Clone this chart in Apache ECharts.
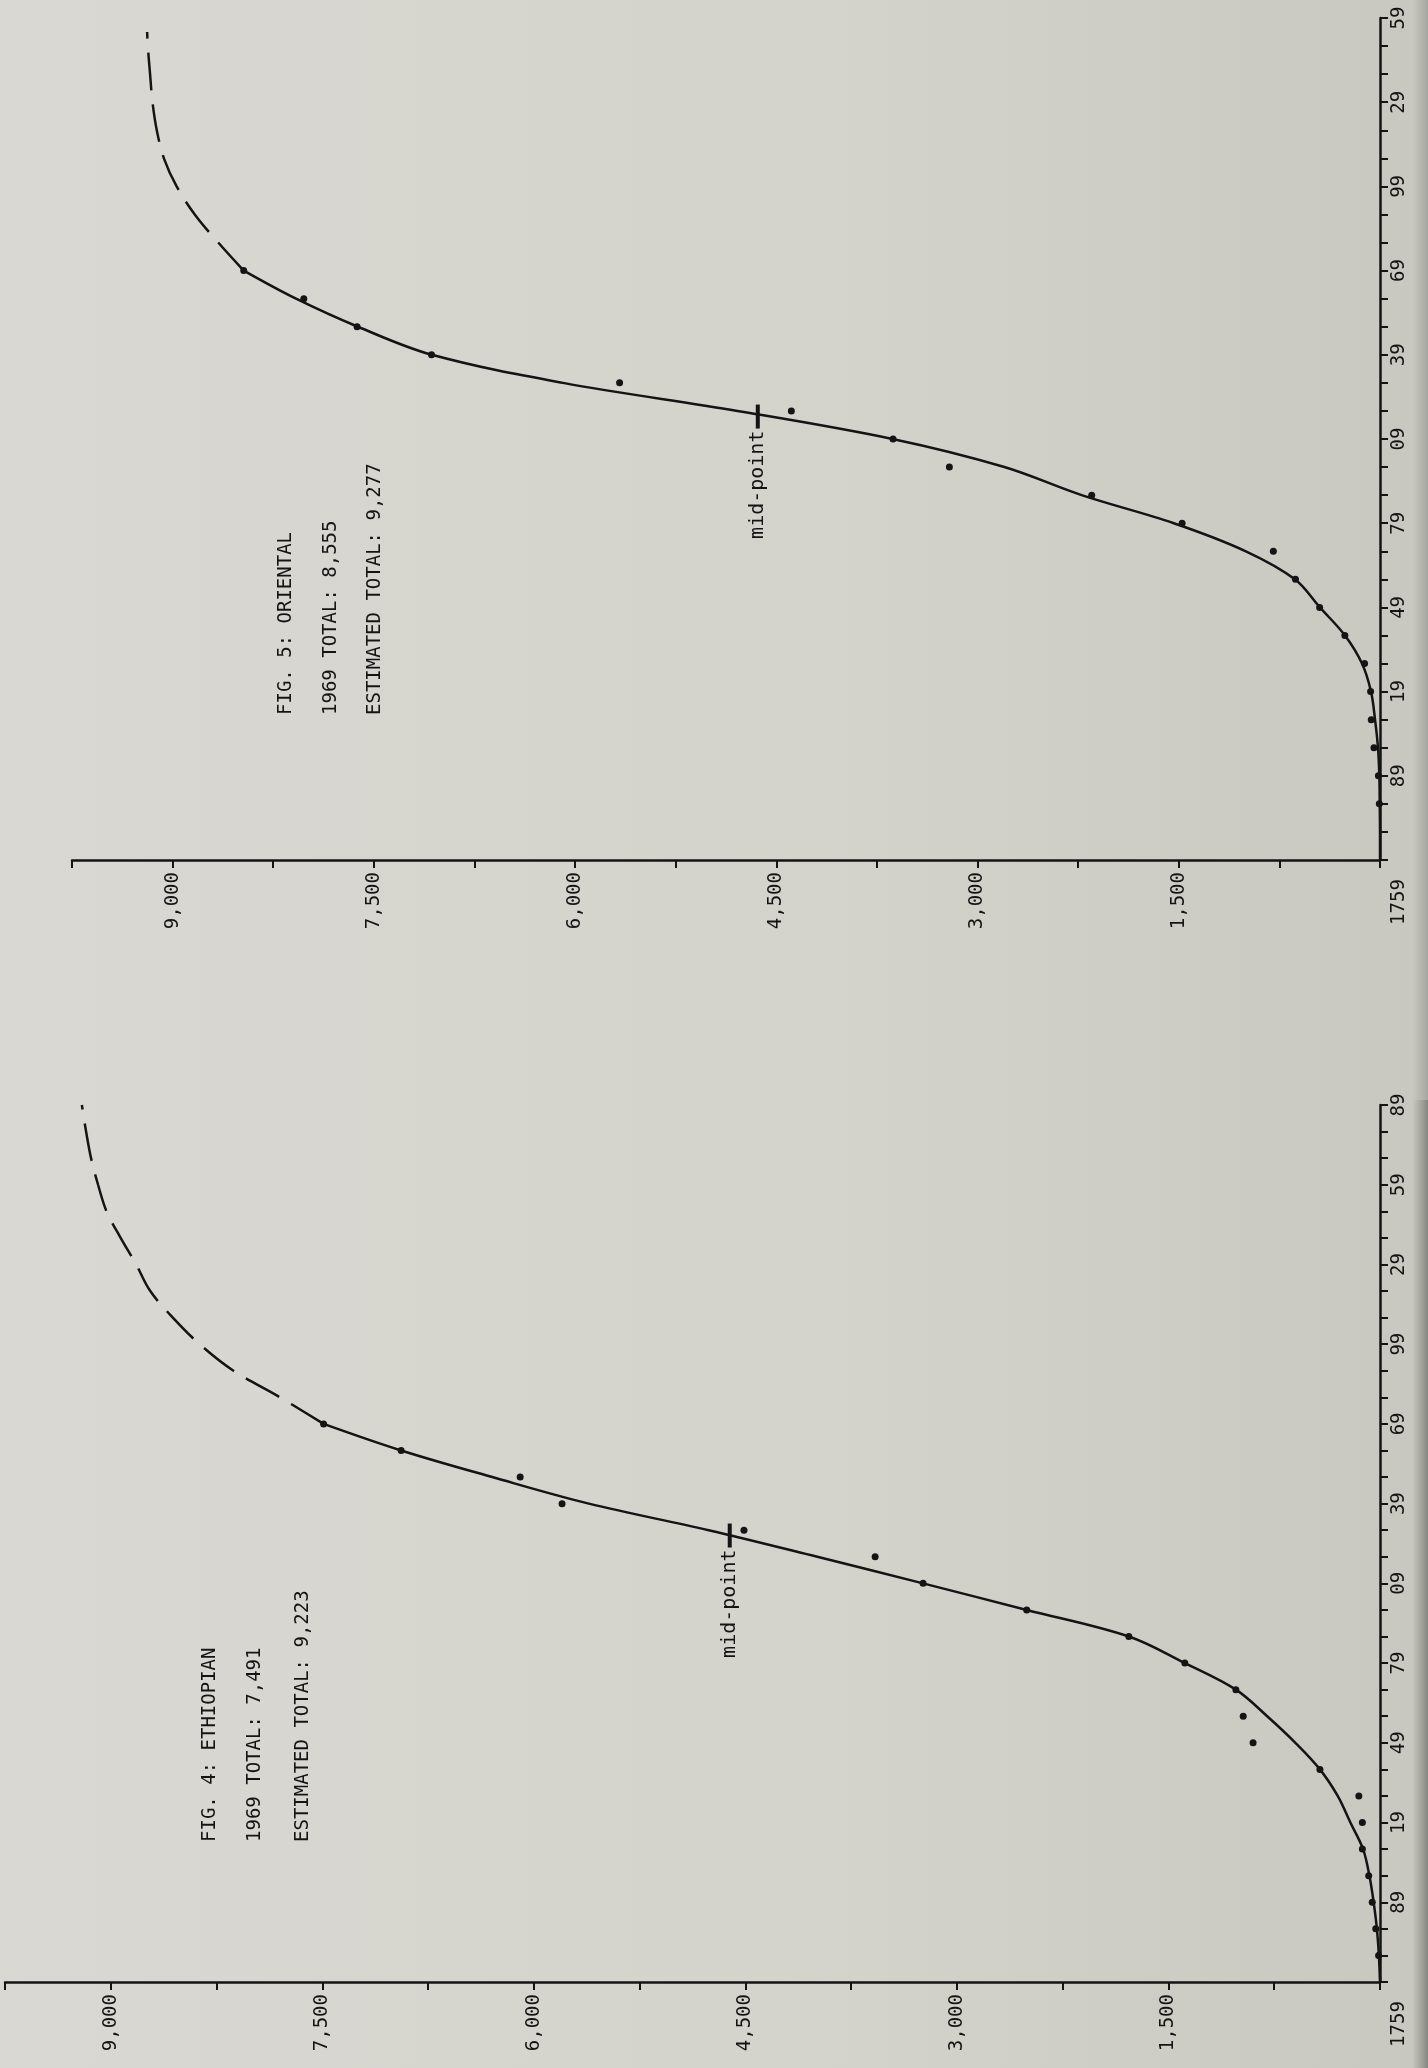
<!DOCTYPE html>
<html>
<head>
<meta charset="utf-8">
<title>Fig. 4 Ethiopian / Fig. 5 Oriental</title>
<script src="https://cdn.jsdelivr.net/npm/echarts@6/dist/echarts.min.js"></script>
<style>
html, body { margin: 0; padding: 0; }
#chart { width: 1428px; height: 2068px; }
</style>
</head>
<body>
<div id="chart"></div>
<script>
// years go on the axis as offsets from 1759 so the ticks start there
var BASE_YEAR = 1759;
var FONT = 'DejaVu Sans Mono';
var INK = '#141414';

var valueTicks = [1500, 3000, 4500, 6000, 7500, 9000];
var valueTickLabels = ['1,500', '3,000', '4,500', '6,000', '7,500', '9,000'];

var fig4YearLabels = ['1759', '89', '19', '49', '79', '09', '39', '69', '99', '29', '59', '89'];
var fig5YearLabels = ['1759', '89', '19', '49', '79', '09', '39', '69', '99', '29', '59'];

// fig 4: ethiopian
var fig4DotYears = [1769, 1779, 1789, 1799, 1809, 1819, 1829, 1839, 1849, 1859, 1869, 1879, 1889, 1899, 1909, 1919, 1929, 1939, 1949, 1959, 1969];
var fig4Dots = [10, 30, 55, 80, 125, 125, 150, 426, 900, 970, 1022, 1384, 1781, 2505, 3240, 3580, 4510, 5800, 6097, 6941, 7491];
var fig4CurveYears = [1759, 1769, 1779, 1789, 1799, 1809, 1819, 1829, 1839, 1849, 1859, 1869, 1879, 1889, 1899, 1909, 1919, 1929, 1939, 1949, 1959, 1969];
var fig4Curve = [0, 8, 22, 45, 75, 120, 210, 300, 426, 600, 800, 1022, 1384, 1781, 2505, 3240, 3990, 4760, 5610, 6295, 6941, 7491];
var fig4DashYears = [1969, 1979, 1989, 1999, 2009, 2019, 2029, 2039, 2049, 2059, 2069, 2079, 2089];
var fig4Dash = [7491, 7800, 8130, 8370, 8560, 8720, 8820, 8930, 9030, 9090, 9140, 9175, 9205];
var fig4Mid = [4611, 1927];
var fig4Text = ['FIG. 4: ETHIOPIAN', '1969 TOTAL: 7,491', 'ESTIMATED TOTAL: 9,223'];

// fig 5: oriental
var fig5DotYears = [1779, 1789, 1799, 1809, 1819, 1829, 1839, 1849, 1859, 1869, 1879, 1889, 1899, 1909, 1919, 1929, 1939, 1949, 1959, 1969];
var fig5Dots = [5, 12, 45, 65, 70, 115, 262, 450, 630, 795, 1475, 2149, 3210, 3630, 4388, 5668, 7070, 7625, 8022, 8470];
var fig5CurveYears = [1759, 1769, 1779, 1789, 1799, 1809, 1819, 1829, 1839, 1849, 1859, 1869, 1879, 1889, 1899, 1909, 1919, 1929, 1939, 1949, 1959, 1969];
var fig5Curve = [0, 0, 2, 5, 15, 37, 67, 134, 261, 448, 634, 1000, 1537, 2224, 2800, 3634, 4790, 6090, 7067, 7619, 8080, 8470];
var fig5DashYears = [1969, 1979, 1989, 1999, 2009, 2019, 2029, 2039, 2049, 2054];
var fig5Dash = [8470, 8660, 8835, 8970, 9065, 9118, 9150, 9168, 9185, 9190];
var fig5Mid = [4638, 1917];
var fig5Text = ['FIG. 5: ORIENTAL', '1969 TOTAL: 8,555', 'ESTIMATED TOTAL: 9,277'];

function pairs(years, vals) {
    return vals.map(function (v, i) { return [v, years[i] - BASE_YEAR]; });
}

function valueAxis(grid) {
    return {
        gridIndex: grid,
        type: 'value',
        inverse: true,
        min: 0,
        max: 9750,
        interval: 750,
        position: 'bottom',
        splitLine: { show: false },
        axisLine: { show: true, onZero: false, lineStyle: { color: INK, width: 2.5 } },
        axisTick: { show: true, length: 8, lineStyle: { color: INK, width: 2 } },
        axisLabel: {
            rotate: 90,
            margin: 12,
            fontFamily: FONT,
            fontSize: 19,
            color: INK,
            formatter: function (v) {
                var i = valueTicks.indexOf(v);
                return i < 0 ? '' : valueTickLabels[i];
            }
        }
    };
}

function yearAxis(grid, labels) {
    return {
        gridIndex: grid,
        type: 'value',
        position: 'right',
        min: 0,
        max: (labels.length - 1) * 30,
        interval: 10,
        splitLine: { show: false },
        axisLine: { show: true, onZero: false, lineStyle: { color: INK, width: 2.5 } },
        axisTick: { show: true, length: 8, lineStyle: { color: INK, width: 2 } },
        axisLabel: {
            rotate: 90,
            margin: 10,
            fontFamily: FONT,
            fontSize: 19,
            color: INK,
            formatter: function (v) {
                if (v % 30 !== 0) return '';
                if (v === 0) return '{o|' + labels[0] + '}';
                return labels[v / 30];
            },
            rich: {
                o: { fontFamily: FONT, fontSize: 19, color: INK, padding: [0, 84, 0, 0] }
            }
        }
    };
}

function figSeries(idx, dotYears, dots, curveYears, curve, dashYears, dash, mid) {
    return [
        {
            type: 'line', xAxisIndex: idx, yAxisIndex: idx,
            data: pairs(curveYears, curve),
            smooth: 0.35,
            symbol: 'none',
            lineStyle: { color: INK, width: 2.5 },
            silent: true
        },
        {
            type: 'line', xAxisIndex: idx, yAxisIndex: idx,
            data: pairs(dashYears, dash),
            smooth: 0.35,
            symbol: 'none',
            lineStyle: { color: INK, width: 2.5, type: [38, 14] },
            silent: true
        },
        {
            type: 'scatter', xAxisIndex: idx, yAxisIndex: idx,
            data: pairs(dotYears, dots),
            symbolSize: 7,
            itemStyle: { color: INK, opacity: 1 },
            z: 3
        },
        {
            type: 'scatter', xAxisIndex: idx, yAxisIndex: idx,
            data: [[mid[0], mid[1] - BASE_YEAR]],
            symbol: 'rect',
            symbolSize: [4, 24],
            itemStyle: { color: INK, opacity: 1 },
            label: {
                show: true,
                formatter: 'mid-point',
                position: 'bottom',
                distance: 2,
                rotate: 90,
                align: 'right',
                verticalAlign: 'middle',
                fontFamily: FONT,
                fontSize: 20,
                color: INK
            },
            z: 4
        }
    ];
}

function figText(lines, xs, bottom) {
    return lines.map(function (t, i) {
        return {
            type: 'text',
            x: xs[i],
            y: bottom,
            rotation: Math.PI / 2,
            style: {
                text: t,
                fontFamily: FONT,
                fontSize: 19,
                fill: INK,
                align: 'left',
                verticalAlign: 'middle'
            }
        };
    });
}

function edgeStrip(top, height, alpha) {
    return {
        type: 'rect', x: 1412, y: top, silent: true,
        shape: { width: 16, height: height },
        style: {
            fill: {
                type: 'linear', x: 0, y: 0, x2: 1, y2: 0,
                colorStops: [
                    { offset: 0, color: 'rgba(120,120,114,0)' },
                    { offset: 1, color: 'rgba(105,105,100,' + alpha + ')' }
                ]
            }
        }
    };
}

var myChart = echarts.init(document.getElementById('chart'));

var option = {
    animation: false,
    backgroundColor: {
        type: 'linear', x: 0, y: 0, x2: 1, y2: 0,
        colorStops: [
            { offset: 0, color: '#d9d8d2' },
            { offset: 0.6, color: '#d3d3cc' },
            { offset: 1, color: '#c8c8c1' }
        ]
    },
    grid: [
        { left: 72, right: 48, top: 18, bottom: 1208 },
        { left: 5, right: 48, top: 1105, bottom: 86 }
    ],
    xAxis: [valueAxis(0), valueAxis(1)],
    yAxis: [yearAxis(0, fig5YearLabels), yearAxis(1, fig4YearLabels)],
    series: []
        .concat(figSeries(0, fig5DotYears, fig5Dots, fig5CurveYears, fig5Curve, fig5DashYears, fig5Dash, fig5Mid))
        .concat(figSeries(1, fig4DotYears, fig4Dots, fig4CurveYears, fig4Curve, fig4DashYears, fig4Dash, fig4Mid)),
    graphic: [edgeStrip(0, 1100, 0.35), edgeStrip(1100, 968, 0.7)]
        .concat(figText(fig5Text, [286, 331, 375], 715))
        .concat(figText(fig4Text, [210, 255, 303], 1842))
};

myChart.setOption(option);
window.addEventListener('resize', function () {
    myChart.resize();
});
</script>
</body>
</html>
